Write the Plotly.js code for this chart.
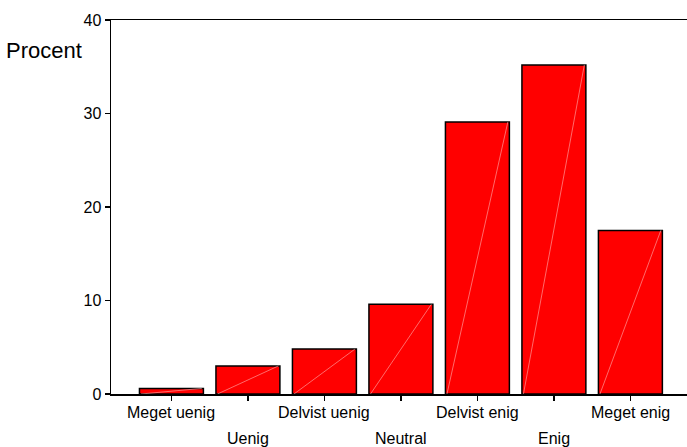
<!DOCTYPE html>
<html>
<head>
<meta charset="utf-8">
<script src="https://cdn.plot.ly/plotly-3.0.1.min.js"></script>
<style>html,body{margin:0;padding:0;background:#fff;}#chart{width:687px;height:447px;}</style>
</head>
<body>
<div id="chart"></div>
<script>
var categories = ["Meget uenig", "Uenig", "Delvist uenig", "Neutral", "Delvist enig", "Enig", "Meget enig"];
var values = [0.6, 3.0, 4.8, 9.6, 29.1, 35.2, 17.5];
var yTicks = [0, 10, 20, 30, 40];
var yTitle = "Procent";

var idx = categories.map(function(_, i){ return i; });
var halfW = 0.418;

var shapes = idx.map(function(i){
  return {type:'line', xref:'x', yref:'y', x0:i-halfW+0.02, y0:0, x1:i+halfW-0.02, y1:values[i],
          line:{color:'rgba(255,190,190,0.8)', width:0.7}, layer:'above'};
});

var annotations = idx.map(function(i){
  return {xref:'x', yref:'paper', x:i, y:0, yanchor:'middle', xanchor:'center',
          yshift:(i % 2 === 0 ? -18 : -44), text:categories[i], showarrow:false,
          font:{family:'Liberation Sans, Arial, sans-serif', size:16, color:'#000'}};
});
annotations.push({xref:'paper', yref:'paper', x:-0.185, y:0.918, xanchor:'left', yanchor:'middle',
  text:yTitle, showarrow:false, font:{family:'Liberation Sans, Arial, sans-serif', size:22, color:'#000'}});

var trace = {
  type:'bar', x:idx, y:values, width:2*halfW,
  marker:{color:'#FF0000', line:{color:'#000', width:1.5}},
  hoverinfo:'skip'
};

var layout = {
  width:687, height:447,
  margin:{l:111, r:0, t:20, b:53},
  paper_bgcolor:'#fff', plot_bgcolor:'#fff',
  showlegend:false,
  xaxis:{range:[-0.79, 6.74], tickvals:idx, ticktext:idx.map(function(){return '';}),
         showgrid:false, zeroline:false, showline:true, linecolor:'#000', linewidth:1.5,
         mirror:true, ticks:'outside', ticklen:5, tickcolor:'#000', tickwidth:1.5, fixedrange:true},
  yaxis:{range:[0,40], tickvals:yTicks, ticktext:yTicks.map(String),
         showgrid:false, zeroline:false, showline:true, linecolor:'#000', linewidth:1.5,
         ticks:'outside', ticklen:5, tickcolor:'#000', tickwidth:1.5,
         tickfont:{family:'Liberation Sans, Arial, sans-serif', size:16, color:'#000'}, fixedrange:true},
  shapes:shapes,
  annotations:annotations
};

Plotly.newPlot('chart', [trace], layout, {staticPlot:true, displayModeBar:false});
</script>
</body>
</html>
